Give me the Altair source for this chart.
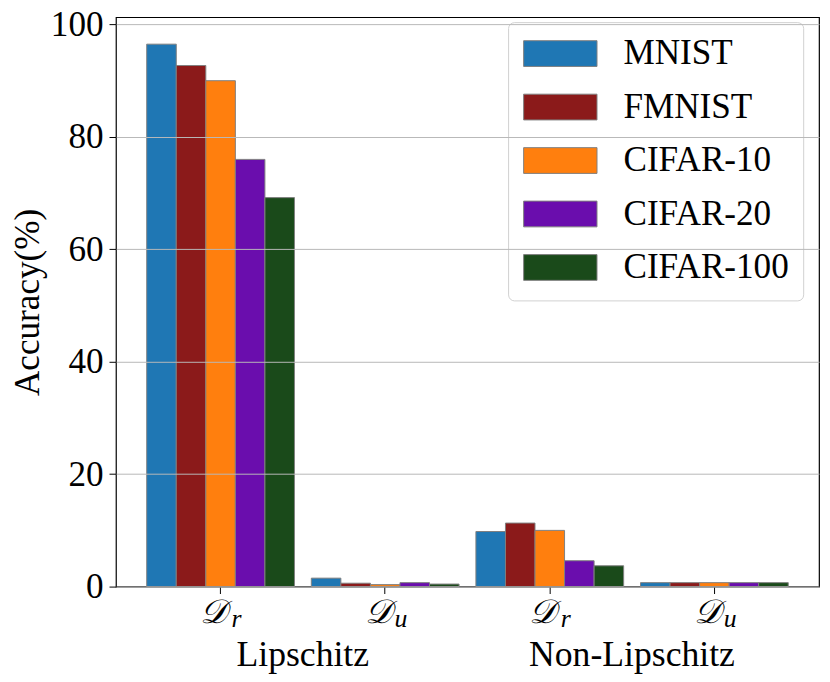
import altair as alt
import pandas as pd

groups = ["L_Dr", "L_Du", "N_Dr", "N_Du"]
group_sub = ["r", "u", "r", "u"]
families = ["Lipschitz", "Non-Lipschitz"]
family_anchor = ["L_Dr", "N_Dr"]
datasets = ["MNIST", "FMNIST", "CIFAR-10", "CIFAR-20", "CIFAR-100"]
colors = ["#1f77b4", "#8b1a1a", "#ff7f0e", "#6a0dad", "#1a4a1a"]

mnist = [96.5, 1.5, 9.8, 0.7]
fmnist = [92.7, 0.6, 11.3, 0.7]
cifar10 = [90.0, 0.35, 10.0, 0.7]
cifar20 = [76.0, 0.7, 4.6, 0.7]
cifar100 = [69.2, 0.45, 3.7, 0.7]
series = [mnist, fmnist, cifar10, cifar20, cifar100]

rows = []
for ds, vals in zip(datasets, series):
    for g, v in zip(groups, vals):
        rows.append({"group": g, "dataset": ds, "acc": v})
df = pd.DataFrame(rows)

sub_df = pd.DataFrame({"group": groups, "D": ["𝒟"] * 4, "sub": group_sub})
fam_df = pd.DataFrame({"group": family_anchor, "label": families})

W, H = 710, 575
FONT = "Liberation Serif"
FS = 35.5

xscale = alt.Scale(domain=groups, paddingInner=0.1024, paddingOuter=0.187)

bars = alt.Chart(df).mark_bar(stroke="gray", strokeWidth=1).encode(
    x=alt.X("group:N", scale=xscale, sort=groups,
            axis=alt.Axis(labels=False, title=None, domain=False, grid=False,
                          ticks=True, tickColor="black", tickSize=7, tickWidth=1)),
    xOffset=alt.XOffset("dataset:N", sort=datasets,
                        scale=alt.Scale(domain=datasets, paddingInner=0, paddingOuter=0)),
    y=alt.Y("acc:Q", scale=alt.Scale(domain=[0, 101.3], nice=False, zero=True),
            axis=alt.Axis(values=[0, 20, 40, 60, 80, 100], title="Accuracy(%)",
                          grid=True, gridColor="#b8b8b8", gridWidth=1,
                          domain=False, tickColor="black", tickSize=7, tickWidth=1,
                          labelFont=FONT, labelFontSize=FS, labelColor="black",
                          labelPadding=6, titleFont=FONT, titleFontSize=FS,
                          titleFontWeight="normal", titleColor="black",
                          titlePadding=5, zindex=1)),
    color=alt.Color("dataset:N", sort=datasets,
                    scale=alt.Scale(domain=datasets, range=colors),
                    legend=alt.Legend(orient="none", legendX=396, legendY=5, title=None,
                                      symbolType="M-2.85,-1H2.85V1H-2.85Z", symbolSize=676,
                                      symbolOffset=21,
                                      symbolStrokeColor="gray", symbolStrokeWidth=1,
                                      symbolOpacity=1,
                                      labelFont=FONT, labelFontSize=FS, labelColor="black",
                                      labelLimit=400, labelOffset=46, rowPadding=17,
                                      padding=14, strokeColor="#d0d0d0",
                                      fillColor="rgba(255,255,255,0.8)", cornerRadius=6)),
)

dlab = alt.Chart(sub_df).mark_text(font="DejaVu Serif", fontSize=34, fontStyle="italic",
                                   baseline="alphabetic", align="center", dx=-7,
                                   color="black").encode(
    x=alt.X("group:N", scale=xscale, sort=groups),
    y=alt.value(H + 37),
    text="D:N",
)
slab = alt.Chart(sub_df).mark_text(font=FONT, fontSize=26, fontStyle="italic",
                                   baseline="alphabetic", align="center", dx=16,
                                   color="black").encode(
    x=alt.X("group:N", scale=xscale, sort=groups),
    y=alt.value(H + 41),
    text="sub:N",
)
flab = alt.Chart(fam_df).mark_text(font=FONT, fontSize=36, baseline="alphabetic",
                                   align="center", dx=83, color="black").encode(
    x=alt.X("group:N", scale=xscale, sort=groups),
    y=alt.value(H + 80),
    text="label:N",
)

chart = alt.layer(bars, dlab, slab, flab).properties(
    width=W, height=H,
    background="white",
    autosize=alt.AutoSizeParams(type="none"),
    padding={"left": 109, "top": 6, "right": 3, "bottom": 85},
).configure_view(stroke="black", strokeWidth=1.2)

chart.save("out.html", embed_options={"renderer": "svg", "actions": False})
